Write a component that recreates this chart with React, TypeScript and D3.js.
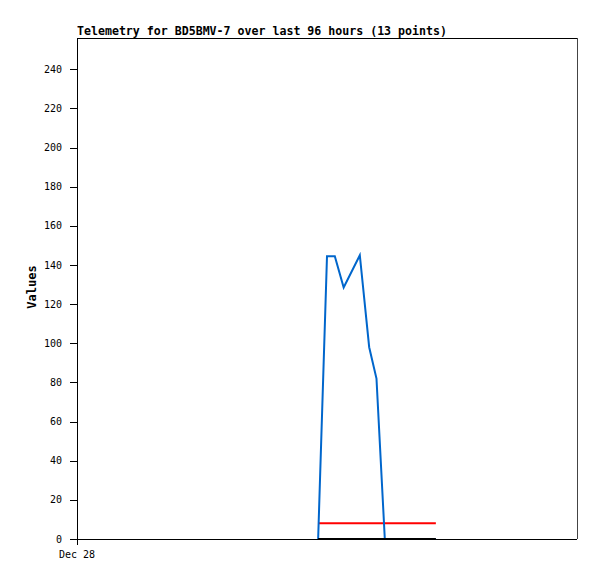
import React from "react";
import * as d3 from "d3";

const title = "Telemetry for BD5BMV-7 over last 96 hours (13 points)";
const yLabel = "Values";
const yTicks = [0, 20, 40, 60, 80, 100, 120, 140, 160, 180, 200, 220, 240];
const xTickLabels = [{ hour: 0, label: "Dec 28" }];

// hours since start of window
const hours = [46.3, 48.0, 49.5, 51.2, 54.3, 56.1, 57.5, 59.1, 68.9];
const blueValues = [0, 144.5, 144.5, 128.5, 145, 98, 82, 0, 0];
const redValues = [8, 8, 8, 8, 8, 8, 8, 8, 8];
const blackValues = [0, 0, 0, 0, 0, 0, 0, 0, 0];

const W = 597, H = 579;
const L = 77, R = 577, T = 38, B = 539;

export default function App() {
  const x = d3.scaleLinear().domain([0, 96]).range([L, R]);
  const y = d3.scaleLinear().domain([0, 256]).range([B, T]);
  const mk = (vals: number[]) =>
    d3.line<number>().x((_, i) => x(hours[i])).y((v) => y(v))(vals) || "";
  const mono = "'DejaVu Sans Mono', monospace";
  return (
    <svg width={W} height={H} style={{ position: "absolute", left: 0, top: 0, background: "#fff" }}>
      <rect x={0} y={0} width={W} height={H} fill="#fff" />
      <text x={L} y={35} fontFamily={mono} fontWeight="bold" fontSize={11.6} fill="#000">{title}</text>
      {/* frame */}
      <line x1={L} x2={R} y1={T + 0.5} y2={T + 0.5} stroke="#000" />
      <line x1={R + 0.5} x2={R + 0.5} y1={T} y2={B} stroke="#444" />
      {/* y ticks */}
      {yTicks.map((t) => (
        <g key={t}>
          <line x1={70} x2={L} y1={Math.round(y(t)) + 0.5} y2={Math.round(y(t)) + 0.5} stroke="#000" />
          <text x={62} y={y(t) + 3.5} textAnchor="end" fontFamily={mono} fontSize={10} fill="#000">{t}</text>
        </g>
      ))}
      {xTickLabels.map((d) => (
        <g key={d.label}>
          <line x1={x(d.hour) + 0.5} x2={x(d.hour) + 0.5} y1={B} y2={B + 6} stroke="#000" />
          <text x={x(d.hour)} y={558} textAnchor="middle" fontFamily={mono} fontSize={10} fill="#000">{d.label}</text>
        </g>
      ))}
      <text transform={`translate(36,${287}) rotate(-90)`} textAnchor="middle" fontFamily={mono} fontWeight="bold" fontSize={12} fill="#000">{yLabel}</text>
      {/* series */}
      <path d={mk(redValues)} fill="none" stroke="#ff0000" strokeWidth={2} />
      <path d={mk(blueValues)} fill="none" stroke="#0066cc" strokeWidth={2} />
      <path d={mk(blackValues)} fill="none" stroke="#000" strokeWidth={2} />
      {/* axes */}
      <line x1={L + 0.5} x2={L + 0.5} y1={T} y2={B} stroke="#000" />
      <line x1={L} x2={R} y1={B + 0.5} y2={B + 0.5} stroke="#000" />
    </svg>
  );
}
